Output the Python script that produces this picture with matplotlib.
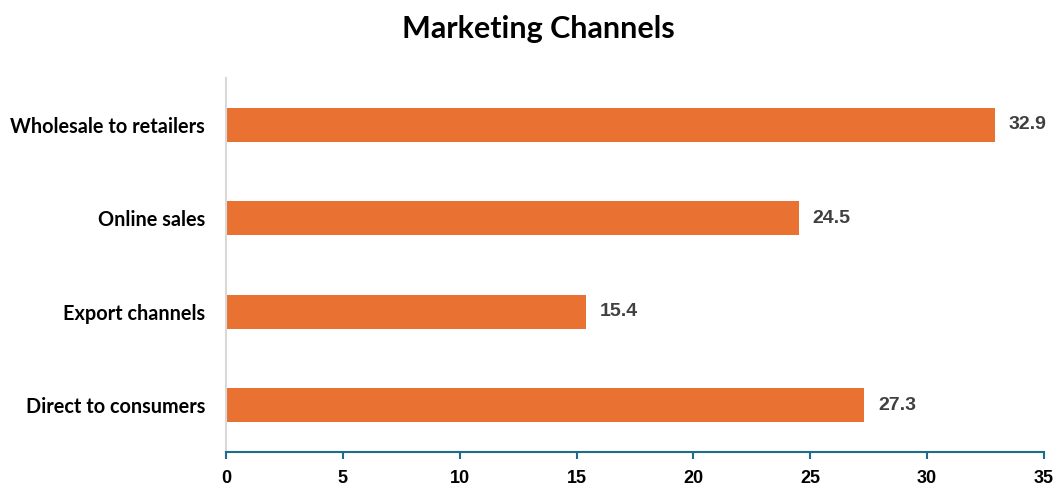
import matplotlib.pyplot as plt

channels = ["Direct to consumers", "Export channels", "Online sales", "Wholesale to retailers"]
shares = [27.3, 15.4, 24.5, 32.9]
xticks = [0, 5, 10, 15, 20, 25, 30, 35]

bar_color = "#E97132"

fig = plt.figure(figsize=(10.59, 4.87), dpi=100)
ax = fig.add_axes([226 / 1059, 35 / 487, 818 / 1059, 374 / 487])

bars = ax.barh(range(len(channels)), shares, height=0.365, color=bar_color)

# value labels at the end of each bar
for bar, val in zip(bars, shares):
    ax.text(val + 0.6, bar.get_y() + bar.get_height() / 2, f"{val:.1f}",
            va="center", ha="left", fontsize=14, fontweight="bold",
            color="#404040", family="Liberation Sans")

ax.set_xlim(0, 35)
ax.set_ylim(-0.5, len(channels) - 0.5)
ax.set_xticks(xticks)
ax.set_xticklabels([str(t) for t in xticks], fontsize=13, fontweight="bold",
                   family="Liberation Sans")
ax.set_yticks(range(len(channels)))
ax.set_yticklabels(channels, fontsize=14.3, fontweight="bold", family="Lato")

for side in ["top", "right"]:
    ax.spines[side].set_visible(False)
ax.spines["left"].set_color("#D9D9D9")
ax.spines["left"].set_linewidth(1.5)
ax.spines["bottom"].set_color("#1F6B8E")
ax.spines["bottom"].set_linewidth(1.5)
ax.tick_params(axis="y", length=0, pad=15)
ax.tick_params(axis="x", length=5, width=1.5, color="#1F6B8E", pad=8)

fig.suptitle("Marketing Channels", x=0.508, y=0.97, fontsize=22,
             fontweight="bold", family="Lato")

fig.savefig("out.png", dpi=100)
